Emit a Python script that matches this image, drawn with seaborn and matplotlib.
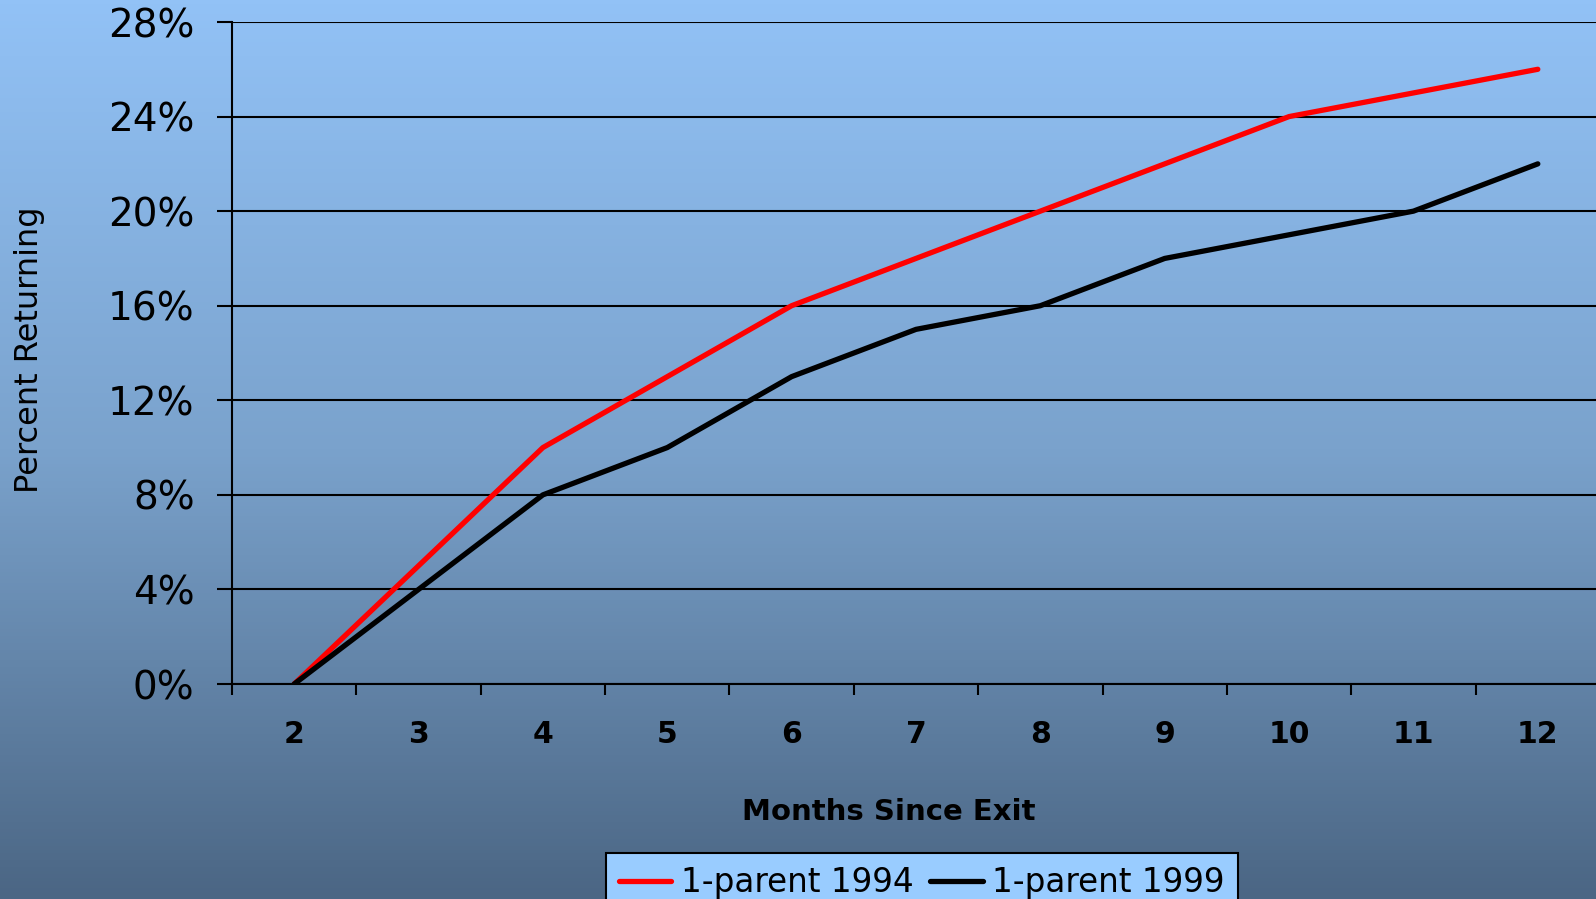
import numpy as np
import pandas as pd
import seaborn as sns
from matplotlib import pyplot as plt
from matplotlib.colors import LinearSegmentedColormap

months = [2, 3, 4, 5, 6, 7, 8, 9, 10, 11, 12]
returning_1994 = [0, 5, 10, 13, 16, 18, 20, 22, 24, 25, 26]
returning_1999 = [0, 4, 8, 10, 13, 15, 16, 18, 19, 20, 22]
series_names = ['1-parent 1994', '1-parent 1999']
y_ticks = [0, 4, 8, 12, 16, 20, 24, 28]

plot_data = pd.DataFrame({
    'month': months * 2,
    'pct': returning_1994 + returning_1999,
    'series': [series_names[0]] * len(months) + [series_names[1]] * len(months),
})

sns.set_style('white')
plt.rcParams['font.family'] = ['DejaVu Sans']
plt.rcParams['text.color'] = 'black'
plt.rcParams['xtick.color'] = 'black'
plt.rcParams['ytick.color'] = 'black'

fig = plt.figure(figsize=(15.96, 8.99), dpi=100)

# gradient background
bg = fig.add_axes([0, 0, 1, 1])
cmap = LinearSegmentedColormap.from_list('bg', ['#92c2f6', '#7aa2cc', '#4b6684'])
bg.imshow(np.linspace(0, 1, 256).reshape(-1, 1), aspect='auto', cmap=cmap, extent=[0, 1, 0, 1])
bg.axis('off')

ax = fig.add_axes([232 / 1596, 1 - 684 / 899, (1600 - 232) / 1596, (684 - 22) / 899])
ax.set_facecolor('none')

sns.lineplot(data=plot_data, x='month', y='pct', hue='series', palette=['#ff0000', '#000000'],
             linewidth=3.8, ax=ax, legend=False, solid_capstyle='round')

ax.set_xlim(1.5, 12.5)
ax.set_ylim(0, 28)
ax.set_xlabel('')
ax.set_ylabel('')
ax.set_yticks(y_ticks)
ax.set_yticklabels([f'{v}%' for v in y_ticks])
ax.set_xticks(months)
ax.set_xticklabels([str(m) for m in months], fontweight='bold')
ax.set_xticks(np.arange(1.5, 13, 1), minor=True)

ax.yaxis.grid(True, color='black', linewidth=1.5)
ax.set_axisbelow(True)
sns.despine(ax=ax, top=True, right=True, left=False, bottom=False)
for side in ['left', 'bottom']:
    ax.spines[side].set_color('black')
    ax.spines[side].set_linewidth(1.5)

ax.tick_params(axis='y', which='major', left=True, length=11, width=1.5, color='black',
               labelsize=28, pad=16, direction='out')
ax.tick_params(axis='x', which='major', bottom=False, length=0, labelsize=21.5, pad=26)
ax.tick_params(axis='x', which='minor', bottom=True, length=8, width=1.5, color='black', direction='out')

fig.text(889 / 1596, 1 - 812 / 899, 'Months Since Exit', ha='center', va='center',
         fontsize=21, fontweight='bold')
fig.text(30 / 1596, 1 - 350 / 899, 'Percent Returning', ha='center', va='center',
         rotation=90, fontsize=23)

handles = [plt.Line2D([], [], color='#ff0000', linewidth=3.8),
           plt.Line2D([], [], color='#000000', linewidth=3.8)]
leg = fig.legend(handles, series_names, loc='upper center', bbox_to_anchor=(922 / 1596, 1 - 853 / 899),
                 ncol=2, fontsize=23.5, frameon=True, fancybox=False, framealpha=1,
                 facecolor='#99ccff', edgecolor='black', handlelength=1.6, handletextpad=0.3,
                 columnspacing=0.5, borderpad=0.4, borderaxespad=0)
leg.get_frame().set_linewidth(1.5)

fig.savefig('out.png', dpi=100)
